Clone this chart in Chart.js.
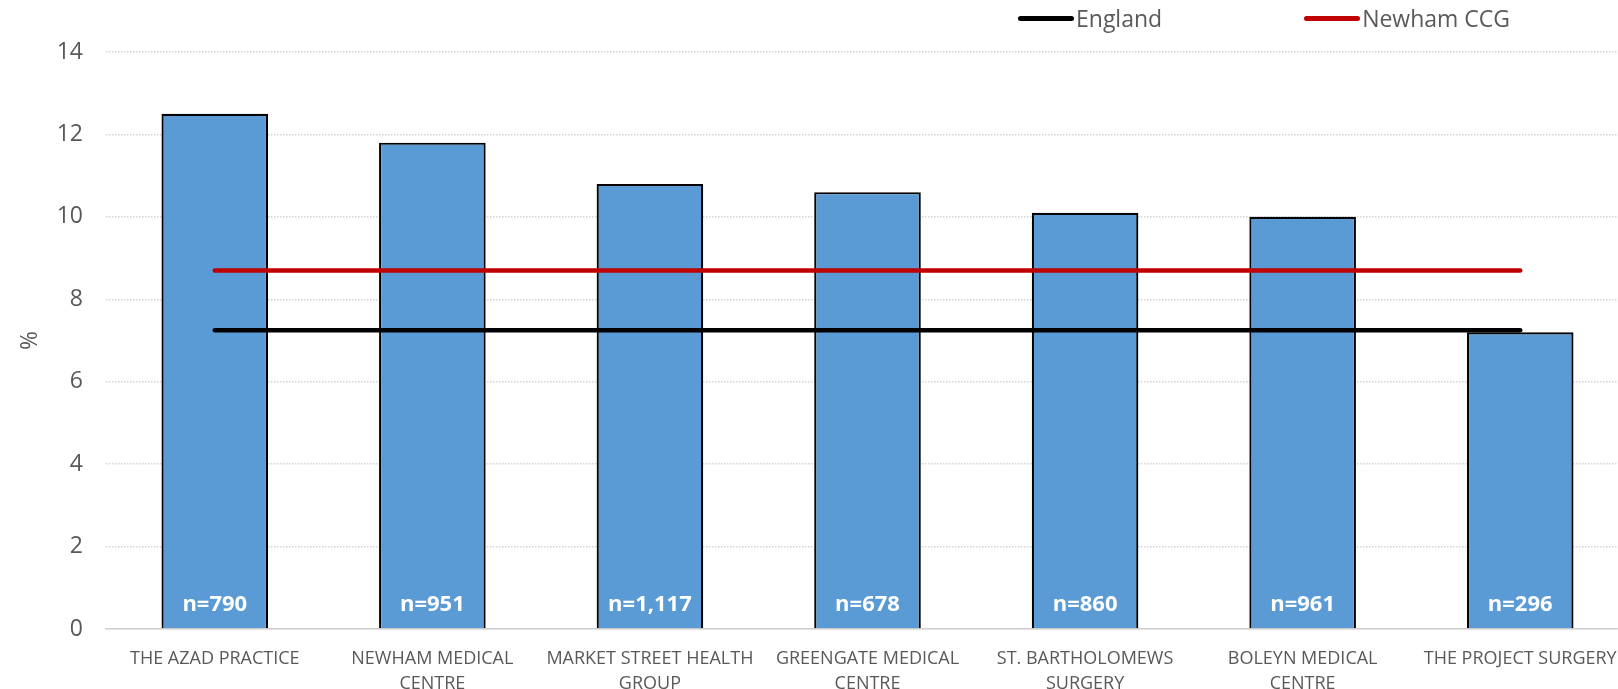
<!DOCTYPE html>
<html>
<head>
<meta charset="utf-8">
<script src="https://cdn.jsdelivr.net/npm/chart.js@4.4.1/dist/chart.umd.min.js"></script>
<style>
    body { margin: 0; overflow: hidden; background: #fff; }
    #wrap { position: relative; width: 1640px; height: 689px; }
    #legend { position: absolute; left: 1018px; top: 2px; display: flex; align-items: center;
        font-family: "Open Sans", sans-serif; font-size: 23px; color: #595959; }
    .item { display: flex; align-items: center; }
    .item + .item { margin-left: 142px; }
    .swatch { width: 56px; height: 5px; border-radius: 3px; margin-right: 2px; }
</style>
</head>
<body>
<div id="wrap">
    <canvas id="practiceChart" width="1640" height="689"></canvas>
    <div id="legend"></div>
</div>
<script>
// Practices, values in %
const practices = [
    ['THE AZAD PRACTICE'],
    ['NEWHAM MEDICAL', 'CENTRE'],
    ['MARKET STREET HEALTH', 'GROUP'],
    ['GREENGATE MEDICAL', 'CENTRE'],
    ['ST. BARTHOLOMEWS', 'SURGERY'],
    ['BOLEYN MEDICAL', 'CENTRE'],
    ['THE PROJECT SURGERY']
];
const practiceValues = [12.5, 11.8, 10.8, 10.6, 10.1, 10.0, 7.2];
const sampleSizes = [790, 951, 1117, 678, 860, 961, 296];
const englandValues = [7.25, 7.25, 7.25, 7.25, 7.25, 7.25, 7.25];
const newhamValues = [8.7, 8.7, 8.7, 8.7, 8.7, 8.7, 8.7];
const yTicks = [0, 2, 4, 6, 8, 10, 12, 14];

const grey = '#595959';

// white n= labels at the foot of each bar
const sampleLabels = {
    id: 'sampleLabels',
    afterDatasetsDraw(chart) {
        const ctx = chart.ctx;
        const base = chart.scales.y.getPixelForValue(0);
        ctx.save();
        ctx.font = 'bold 22px "Open Sans", sans-serif';
        ctx.fillStyle = '#ffffff';
        ctx.textAlign = 'center';
        ctx.textBaseline = 'middle';
        chart.getDatasetMeta(0).data.forEach(function(bar, i) {
            ctx.fillText('n=' + sampleSizes[i].toLocaleString('en-GB'), bar.x, base - 24);
        });
        ctx.restore();
    }
};

const ctx = document.getElementById('practiceChart').getContext('2d');
const practiceChart = new Chart(ctx, {
    type: 'bar',
    data: {
        labels: practices,
        datasets: [{
            label: 'Practice',
            data: practiceValues,
            backgroundColor: '#5b9bd5',
            borderColor: '#000000',
            borderWidth: 2.2,
            barPercentage: 0.49,
            categoryPercentage: 1,
            order: 2
        }, {
            type: 'line',
            label: 'England',
            data: englandValues,
            borderColor: '#000000',
            backgroundColor: '#000000',
            borderWidth: 4.5,
            borderCapStyle: 'round',
            pointRadius: 0,
            fill: false,
            order: 1
        }, {
            type: 'line',
            label: 'Newham CCG',
            data: newhamValues,
            borderColor: '#c00000',
            backgroundColor: '#c00000',
            borderWidth: 4.5,
            borderCapStyle: 'round',
            pointRadius: 0,
            fill: false,
            order: 1
        }]
    },
    options: {
        responsive: false,
        animation: false,
        devicePixelRatio: 1,
        layout: { padding: { top: 52, left: 14, right: 11, bottom: 0 } },
        plugins: {
            legend: { display: false },
            tooltip: { enabled: false }
        },
        scales: {
            x: {
                grid: { display: false },
                border: { display: true, color: '#d0d0d0', width: 1.5 },
                ticks: {
                    autoSkip: false,
                    maxRotation: 0,
                    padding: 9,
                    color: grey,
                    font: { family: '"Open Sans", sans-serif', size: 18, lineHeight: 1.39 }
                },
                afterFit: function(scale) { scale.height = 60; }
            },
            y: {
                min: 0,
                max: 14,
                afterBuildTicks: function(scale) {
                    scale.ticks = yTicks.map(function(v) { return { value: v }; });
                },
                grid: { color: '#d4d4d4', lineWidth: 1.5, drawTicks: false },
                border: { display: false, dash: [1.5, 1.5] },
                ticks: {
                    padding: 23,
                    color: grey,
                    font: { family: '"Open Sans", sans-serif', size: 23 }
                },
                title: {
                    display: true,
                    text: '%',
                    color: grey,
                    padding: { top: 3, bottom: 0 },
                    font: { family: '"Open Sans", sans-serif', size: 23, lineHeight: 1.2 }
                },
                afterFit: function(scale) { scale.width = 92; }
            }
        }
    },
    plugins: [sampleLabels]
});

// Legend for the two reference lines
const legend = document.getElementById('legend');
practiceChart.data.datasets.slice(1).forEach(function(ds) {
    const item = document.createElement('div');
    item.className = 'item';
    const sw = document.createElement('span');
    sw.className = 'swatch';
    sw.style.background = ds.borderColor;
    const txt = document.createElement('span');
    txt.textContent = ds.label;
    item.appendChild(sw);
    item.appendChild(txt);
    legend.appendChild(item);
});
</script>
</body>
</html>
